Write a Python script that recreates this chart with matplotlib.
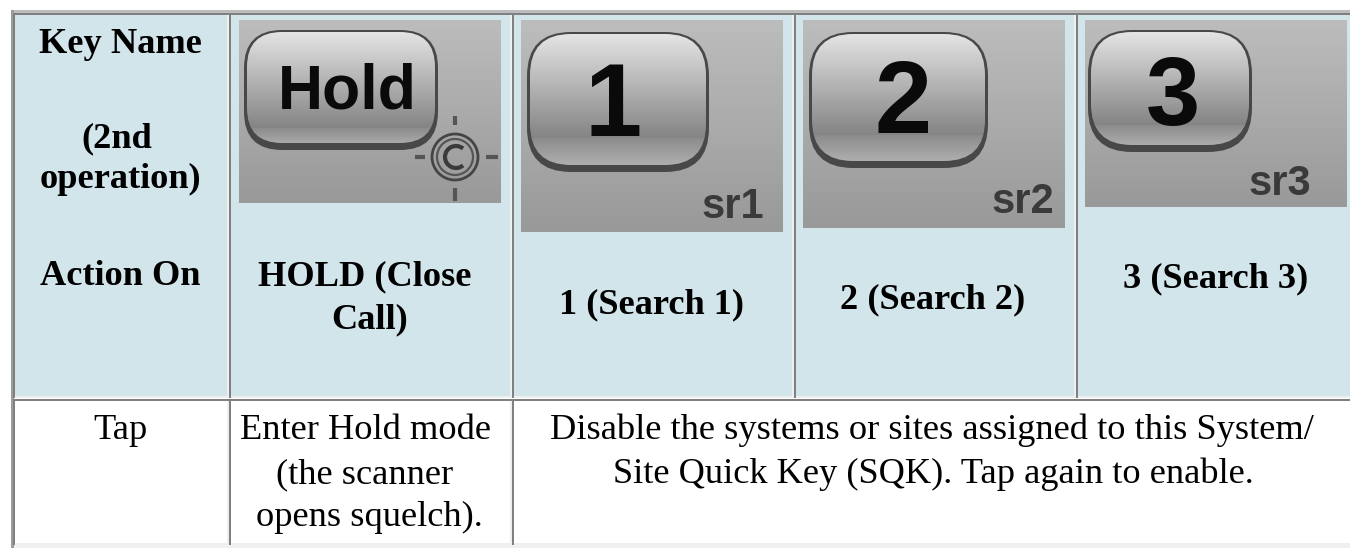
import numpy as np
import matplotlib
matplotlib.use("Agg")
import matplotlib.pyplot as plt
from matplotlib.patches import Rectangle, FancyBboxPatch, Circle, Arc

W, H = 1350, 548
HEADER_BG = "#d2e5ea"
SERIF = "Liberation Serif"
SANS = "Liberation Sans"

first_col_lines = ["Key Name", "(2nd", "operation)", "Action On"]
first_col_x = [120.5, 117, 120, 120]
first_col_base = [53, 147, 188, 285]
header_labels = [["HOLD (Close", "Call)"], ["1 (Search 1)"], ["2 (Search 2)"], ["3 (Search 3)"]]
header_x = [[365, 370], [651.5], [933], [1216]]
header_base = [[285, 328], [313], [308], [287]]
key_glyphs = ["Hold", "1", "2", "3"]
key_subs = ["", "sr1", "sr2", "sr3"]
row_label = "Tap"
hold_lines = ["Enter Hold mode", "(the scanner", "opens squelch)."]
hold_x = [365, 364.5, 369]
hold_base = [439, 483, 526]
sqk_lines = ["Disable the systems or sites assigned to this System/",
             "Site Quick Key (SQK). Tap again to enable."]
sqk_x = [932, 933.5]
sqk_base = [439, 483]

col_edges = [(15, 227), (231, 510), (514, 792), (796, 1074), (1078, 1352)]
img_boxes = [(239, 20, 501, 203), (521, 20, 783, 232), (803, 20, 1065, 228), (1085, 20, 1347, 207)]
btn_boxes = [(244, 30, 438, 150), (527, 32, 709, 172), (809, 32, 988, 168), (1088, 30, 1252, 152)]
btn_split = [128, 138, 135, 125]
glyph_pos = [(347, 108.5, 45), (613, 136, 74), (903, 133, 74), (1173, 125, 70)]
sub_pos = [None, (733, 218), (1023, 213), (1280, 195)]

fig = plt.figure(figsize=(13.5, 5.48), dpi=100)
ax = fig.add_axes([0, 0, 1, 1])
ax.set_xlim(0, W)
ax.set_ylim(H, 0)
ax.axis("off")


def rect(x0, y0, x1, y1, c, z=1):
    ax.add_patch(Rectangle((x0, y0), x1 - x0, y1 - y0, fc=c, ec="none", lw=0, zorder=z))


def cell(x0, y0, x1, y1, bg):
    rect(x0 - 2, y0 - 2, x1 + 2, y1 + 2, "#efefef", 1)
    rect(x0 - 2, y0 - 2, x1 + 2, y0, "#808080", 2)
    rect(x0 - 2, y0 - 2, x0, y1 + 2, "#808080", 2)
    rect(x0, y0, x1, y1, bg, 3)


def vgrad(box, top, bottom, z, clip=None):
    x0, y0, x1, y1 = box
    t = np.linspace(0, 1, 64)[:, None, None]
    a, b = np.array(top)[None, None, :], np.array(bottom)[None, None, :]
    im = ax.imshow(a + (b - a) * t, extent=(x0, x1, y1, y0), aspect="auto",
                   zorder=z, interpolation="bilinear")
    if clip is not None:
        im.set_clip_path(clip)
    return im


# outer table bevel
rect(11, 10, W, 13, "#bcbcbc", 1)
rect(11, 10, 14, 548, "#9c9c9c", 1)
rect(14, 545, W, 548, "#f0f0f0", 1)

for x0, x1 in col_edges:
    cell(x0, 15, x1, 396, HEADER_BG)
for x0, x1 in [col_edges[0], col_edges[1], (514, 1352)]:
    cell(x0, 401, x1, 543, "white")

for i, box in enumerate(img_boxes):
    vgrad(box, (.74, .74, .74), (.60, .60, .60), 4)
    bx0, by0, bx1, by1 = btn_boxes[i]
    r = 38 if i == 0 else 44
    outer = FancyBboxPatch((bx0 + r, by0 + r), bx1 - bx0 - 2 * r, by1 - by0 - 2 * r,
                           boxstyle=f"round,pad={r},rounding_size={r}",
                           fc="#484848", ec="none", zorder=5)
    ax.add_patch(outer)
    inner = FancyBboxPatch((bx0 + r, by0 + r - 1), bx1 - bx0 - 2 * r, by1 - by0 - 2 * r - 3,
                           boxstyle=f"round,pad={r - 3},rounding_size={r - 3}",
                           fc="none", ec="none", zorder=6)
    ax.add_patch(inner)
    split = btn_split[i]
    vgrad((bx0, by0, bx1, split), (.90, .90, .90), (.52, .52, .52), 6, inner)
    vgrad((bx0, split, bx1, by1), (.55, .55, .55), (.72, .72, .72), 6, inner)
    gx, gy, fs = glyph_pos[i]
    ax.text(gx, gy, key_glyphs[i], family=SANS, weight="bold", fontsize=fs,
            color="#0a0a0a", ha="center", va="baseline", zorder=7)
    if sub_pos[i]:
        sx, sy = sub_pos[i]
        ax.text(sx, sy, key_subs[i], family=SANS, weight="bold", fontsize=30, color="#3a3a3a",
                ha="center", va="baseline", zorder=7)

# close call symbol on the Hold key
cx, cy = 455, 157
ax.add_patch(Circle((cx, cy), 23, fc="none", ec="#454545", lw=2.0, zorder=7))
ax.add_patch(Circle((cx, cy), 18, fc="none", ec="#555555", lw=1.6, zorder=7))
ax.add_patch(Arc((cx + 1, cy), 22, 22, theta1=50, theta2=310, ec="#3a3a3a", lw=3, zorder=7))
ax.plot([415, 425], [cy, cy], color="#555555", lw=3, zorder=7, solid_capstyle="butt")
ax.plot([486, 498], [cy, cy], color="#555555", lw=3, zorder=7, solid_capstyle="butt")
ax.plot([cx, cx], [116, 125], color="#555555", lw=3, zorder=7, solid_capstyle="butt")
ax.plot([cx, cx], [188, 201], color="#555555", lw=3, zorder=7, solid_capstyle="butt")

FS = 26.2
for s, x, y in zip(first_col_lines, first_col_x, first_col_base):
    ax.text(x, y, s, family=SERIF, weight="bold", fontsize=FS, ha="center", va="baseline", zorder=8)
for lines, xs, bases in zip(header_labels, header_x, header_base):
    for s, x, y in zip(lines, xs, bases):
        ax.text(x, y, s, family=SERIF, weight="bold", fontsize=FS,
                ha="center", va="baseline", zorder=8)

ax.text(120, hold_base[0], row_label, family=SERIF, fontsize=FS, ha="center", va="baseline", zorder=8)
for s, x, y in zip(hold_lines, hold_x, hold_base):
    ax.text(x, y, s, family=SERIF, fontsize=FS, ha="center", va="baseline", zorder=8)
for s, x, y in zip(sqk_lines, sqk_x, sqk_base):
    ax.text(x, y, s, family=SERIF, fontsize=FS, ha="center", va="baseline", zorder=8)

ax.set_xlim(0, W)
ax.set_ylim(H, 0)
fig.savefig("out.png", dpi=100, facecolor="white")
